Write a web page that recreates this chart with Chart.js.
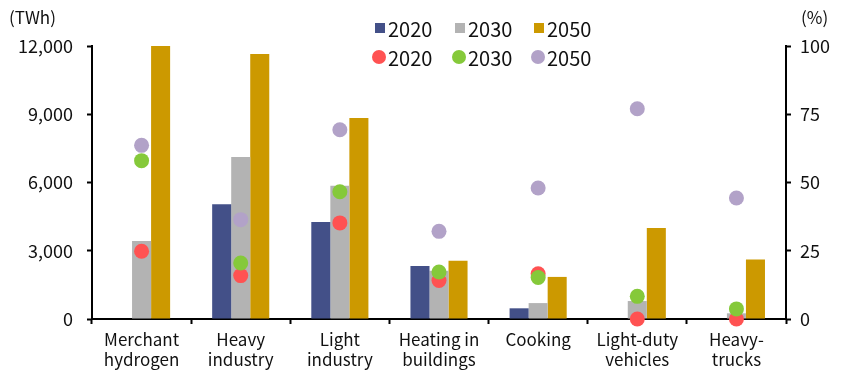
<!DOCTYPE html>
<html>
<head>
<meta charset="utf-8">
<script src="https://cdn.jsdelivr.net/npm/chart.js@4"></script>
<style>
  html, body { margin: 0; padding: 0; background: #fff; }
  #wrap { width: 844px; height: 372px; }
</style>
</head>
<body>
<div id="wrap"><canvas id="demand-chart" width="844" height="372"></canvas></div>
<script>
const categories = [
    ['Merchant', 'hydrogen'],
    ['Heavy', 'industry'],
    ['Light', 'industry'],
    ['Heating in', 'buildings'],
    'Cooking',
    ['Light-duty', 'vehicles'],
    ['Heavy-', 'trucks']
];

// electricity demand, TWh (left axis)
const twh2020 = [null, 5040, 4260, 2330, 470, null, null];
const twh2030 = [3430, 7120, 5860, 2120, 700, 790, 250];
const twh2050 = [12000, 11650, 8840, 2560, 1850, 4000, 2610];

// share, % (right axis)
const pct2020 = [24.8, 15.9, 35.2, 14.1, 16.6, 0, 0];
const pct2030 = [58, 20.5, 46.6, 17.2, 15.2, 8.3, 3.7];
const pct2050 = [63.6, 36.4, 69.3, 32.1, 48, 77, 44.3];

const leftTicks = [0, 3000, 6000, 9000, 12000];
const rightTicks = [0, 25, 50, 75, 100];

const FONT = '"Noto Sans CJK KR", "Open Sans", sans-serif';

function barSet(label, data, color) {
    return {
        type: 'bar',
        label: label,
        data: data,
        backgroundColor: color,
        borderWidth: 0,
        yAxisID: 'y',
        order: 9,
        barPercentage: 1.0,
        categoryPercentage: 0.576
    };
}

// lower order is painted later, i.e. on top
function dotSet(label, data, color, order) {
    return {
        type: 'line',
        label: label,
        data: data,
        showLine: false,
        pointStyle: 'circle',
        pointRadius: 7.5,
        pointHoverRadius: 7.5,
        pointBackgroundColor: color,
        pointBorderWidth: 0,
        backgroundColor: color,
        borderColor: color,
        yAxisID: 'y1',
        order: order,
        clip: false
    };
}

// two-row legend plus the unit captions above each axis
const legendPlugin = {
    id: 'sideLegend',
    afterDraw(chart) {
        const ctx = chart.ctx;
        const cols = [375, 455, 534];
        const rows = [28, 57];
        ctx.save();
        ctx.font = '20px ' + FONT;
        ctx.textBaseline = 'middle';
        chart.data.datasets.forEach((ds, i) => {
            const row = i < 3 ? 0 : 1;
            const x = cols[i % 3];
            const y = rows[row];
            ctx.fillStyle = ds.backgroundColor;
            if (row === 0) {
                ctx.fillRect(x, y - 5, 10, 10);
            } else {
                ctx.beginPath();
                ctx.arc(x + 4, y, 7, 0, Math.PI * 2);
                ctx.fill();
            }
            ctx.fillStyle = '#111';
            ctx.textAlign = 'left';
            ctx.fillText(ds.label, x + 13, y + 1);
        });

        ctx.font = '17px ' + FONT;
        ctx.textAlign = 'left';
        ctx.fillText('(TWh)', 9, 18);
        ctx.fillText('(%)', 801, 18);
        ctx.restore();
    }
};

const axisLine = { display: true, color: '#000', width: 2 };
const tickMarks = {
    display: true,
    drawOnChartArea: false,
    drawTicks: true,
    tickLength: 5,
    tickWidth: 2,
    color: '#000'
};

new Chart(document.getElementById('demand-chart').getContext('2d'), {
    data: {
        labels: categories,
        datasets: [
            barSet('2020', twh2020, '#435088'),
            barSet('2030', twh2030, '#b3b3b3'),
            barSet('2050', twh2050, '#cc9900'),
            dotSet('2020', pct2020, '#ff5252', 3),
            dotSet('2030', pct2030, '#85c93a', 2),
            dotSet('2050', pct2050, '#b2a2c8', 1)
        ]
    },
    options: {
        responsive: false,
        animation: false,
        devicePixelRatio: 1,
        layout: { padding: { top: 46, left: 0, right: 0, bottom: 0 } },
        plugins: {
            legend: { display: false },
            tooltip: { enabled: false }
        },
        scales: {
            x: {
                offset: true,
                grid: { ...tickMarks, offset: true },
                border: axisLine,
                ticks: {
                    color: '#111',
                    font: { family: FONT, size: 17, lineHeight: 1.2 },
                    maxRotation: 0,
                    autoSkip: false,
                    padding: 5
                },
                afterFit(scale) { scale.height = 53; }
            },
            y: {
                position: 'left',
                min: 0,
                max: 12000,
                afterBuildTicks(scale) {
                    scale.ticks = leftTicks.map(v => ({ value: v }));
                },
                grid: tickMarks,
                border: axisLine,
                ticks: {
                    color: '#111',
                    font: { family: FONT, size: 18 },
                    padding: 14,
                    callback: v => v.toLocaleString('en-US')
                },
                afterFit(scale) { scale.width = 92; }
            },
            y1: {
                position: 'right',
                min: 0,
                max: 100,
                afterBuildTicks(scale) {
                    scale.ticks = rightTicks.map(v => ({ value: v }));
                },
                grid: tickMarks,
                border: axisLine,
                ticks: {
                    color: '#111',
                    font: { family: FONT, size: 18 },
                    padding: 9
                },
                afterFit(scale) { scale.width = 58; }
            }
        }
    },
    plugins: [legendPlugin]
});
</script>
</body>
</html>
